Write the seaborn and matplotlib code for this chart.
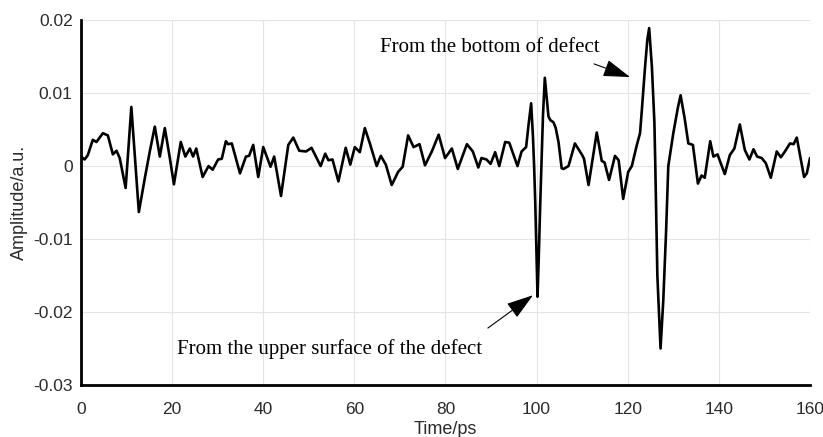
import matplotlib
matplotlib.use("Agg")
import matplotlib.pyplot as plt
import pandas as pd
import seaborn as sns

# Measured echo signal (time in ps, amplitude in arbitrary units)
time_ps = [
    0.0, 0.8, 1.5, 2.6, 3.4, 4.8, 5.9, 7.0, 7.8, 8.5, 9.8, 11.05, 11.8, 12.7,
    14.0, 15.1, 16.2, 17.3, 18.4, 19.5, 20.4, 21.9, 22.9, 23.9, 24.6, 25.3,
    26.7, 28.0, 28.9, 30.1, 30.9, 31.8, 32.3, 33.1, 34.9, 36.2, 36.9, 37.8,
    38.9, 40.0, 41.6, 42.4, 43.9, 45.5, 46.6, 47.9, 49.4, 50.6, 52.6, 53.6,
    54.3, 55.2, 56.5, 58.1, 59.1, 60.1, 61.2, 62.3, 63.4, 64.9, 65.8, 66.9,
    68.2, 69.6, 70.6, 71.8, 73.0, 74.3, 75.5, 77.0, 78.5, 79.9, 81.4, 82.7,
    84.7, 86.0, 87.2, 87.9, 89.0, 89.9, 90.9, 91.8, 93.1, 94.0, 95.8, 96.7,
    97.7, 98.2, 98.8, 99.2, 99.45, 99.7, 100.0, 100.2, 100.45, 100.8, 101.05,
    101.4, 101.8, 102.2, 102.6, 103.0, 103.7, 104.2, 104.8, 105.5, 105.9,
    107.0, 108.4, 110.0, 110.4, 111.4, 113.2, 114.3, 114.9, 115.9, 117.2,
    118.0, 119.0, 120.1, 120.9, 122.0, 122.7, 123.1, 123.8, 124.3, 124.7,
    125.3, 125.85, 126.05, 126.5, 127.2, 127.8, 128.4, 128.9, 130.0, 131.0,
    131.6, 132.5, 133.3, 134.3, 135.4, 136.2, 136.9, 138.1, 138.8, 139.7,
    141.3, 142.4, 143.4, 144.6, 145.7, 146.7, 147.6, 148.4, 149.4, 150.3,
    151.4, 152.7, 153.6, 154.5, 155.6, 156.4, 157.1, 158.7, 159.3, 160.0,
]
amplitude = [
    0.0013, 0.0009, 0.0015, 0.0036, 0.0033, 0.0045, 0.0042, 0.0016, 0.0021,
    0.0011, -0.0030, 0.0081, 0.0015, -0.0063, -0.0017, 0.0020, 0.0054, 0.0013,
    0.0052, 0.0011, -0.0025, 0.0033, 0.0013, 0.0024, 0.0013, 0.0024, -0.0015,
    0.0000, -0.0005, 0.0009, 0.0010, 0.0034, 0.0030, 0.0031, -0.0010, 0.0013,
    0.0014, 0.0029, -0.0015, 0.0026, -0.0001, 0.0013, -0.0041, 0.0029, 0.0039,
    0.0021, 0.0020, 0.0025, 0.0000, 0.0017, 0.0008, 0.0009, -0.0021, 0.0025,
    0.0002, 0.0026, 0.0019, 0.0052, 0.0031, 0.0000, 0.0014, 0.0002, -0.0026,
    -0.0008, -0.0001, 0.0042, 0.0026, 0.0030, 0.0001, 0.0020, 0.0043, 0.0011,
    0.0024, -0.0004, 0.0030, 0.0020, -0.0002, 0.0011, 0.0009, 0.0003, 0.0019,
    0.0000, 0.0033, 0.0032, 0.0000, 0.0020, 0.0026, 0.0055, 0.0086, 0.0040,
    0.0000, -0.0050, -0.0130, -0.0179, -0.0130, -0.0050, 0.0000, 0.0070,
    0.0121, 0.0095, 0.0068, 0.0063, 0.0060, 0.0052, 0.0033, -0.0003, -0.0004,
    0.0000, 0.0031, 0.0015, 0.0010, -0.0026, 0.0046, 0.0007, 0.0005, -0.0019,
    0.0014, 0.0008, -0.0045, -0.0008, 0.0000, 0.0029, 0.0045, 0.0077, 0.0136,
    0.0173, 0.0189, 0.0136, 0.0060, 0.0000, -0.0150, -0.0250, -0.0184,
    -0.0092, 0.0000, 0.0045, 0.0080, 0.0097, 0.0065, 0.0031, 0.0029, -0.0024,
    -0.0013, -0.0016, 0.0034, 0.0013, 0.0016, -0.0011, 0.0015, 0.0024, 0.0057,
    0.0022, 0.0009, 0.0023, 0.0013, 0.0011, 0.0004, -0.0016, 0.0020, 0.0012,
    0.0020, 0.0031, 0.0030, 0.0039, -0.0015, -0.0010, 0.0011,
]

x_ticks = [0, 20, 40, 60, 80, 100, 120, 140, 160]
y_ticks = [-0.03, -0.02, -0.01, 0.0, 0.01, 0.02]
y_tick_labels = ["-0.03", "-0.02", "-0.01", "0", "0.01", "0.02"]

sns.set_theme(style="whitegrid")
plt.rcParams["font.family"] = ["Liberation Sans", "DejaVu Sans"]

fig = plt.figure(figsize=(8.23, 4.37), dpi=100)
ax = fig.add_axes([0.0984, 0.119, 0.8858, 0.835])

df = pd.DataFrame({"Time/ps": time_ps, "Amplitude/a.u.": amplitude})
sns.lineplot(data=df, x="Time/ps", y="Amplitude/a.u.", ax=ax, color="black",
             linewidth=1.9, estimator=None, sort=False,
             solid_joinstyle="round", solid_capstyle="round")

ax.set_xlim(0, 160)
ax.set_ylim(-0.03, 0.02)
ax.set_xticks(x_ticks)
ax.set_xticklabels([str(v) for v in x_ticks])
ax.set_yticks(y_ticks)
ax.set_yticklabels(y_tick_labels)

ax.grid(True, color="#e4e4e4", linewidth=0.8)
ax.set_facecolor("white")
for side in ["top", "right"]:
    ax.spines[side].set_visible(False)
for side in ["left", "bottom"]:
    ax.spines[side].set_color("black")
    ax.spines[side].set_linewidth(2.0)

ax.tick_params(axis="both", direction="in", length=6, width=1.6,
               color="black", labelsize=12.5, labelcolor="#2b2b2b")
ax.tick_params(axis="x", pad=12)
ax.tick_params(axis="y", pad=6)
ax.set_xlabel("Time/ps", fontsize=13, color="#2b2b2b", labelpad=3)
ax.set_ylabel("Amplitude/a.u.", fontsize=13, color="#2b2b2b", labelpad=4)

serif = ["Liberation Serif", "DejaVu Serif"]
ax.text(65.6, 0.0162, "From the bottom of defect", family=serif,
        fontsize=15, color="black", va="center", ha="left")
ax.text(21.1, -0.0251, "From the upper surface of the defect", family=serif,
        fontsize=15, color="black", va="center", ha="left")

arrow = dict(arrowstyle="-|>,head_length=1.4,head_width=0.45", color="black",
             lw=0.8, shrinkA=0, shrinkB=0)
ax.annotate("", xy=(120.5, 0.0122), xytext=(112.6, 0.0140), arrowprops=arrow)
ax.annotate("", xy=(99.2, -0.0177), xytext=(89.3, -0.0222), arrowprops=arrow)

fig.savefig("out.png", dpi=100)
